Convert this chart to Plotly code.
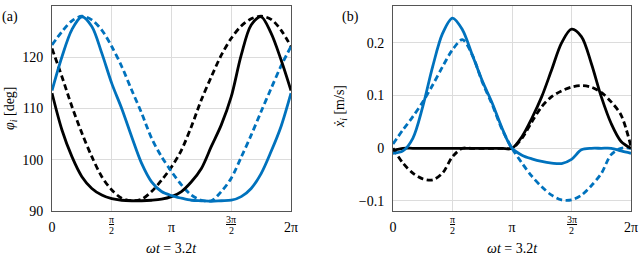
import math
import plotly.graph_objects as go

# sample positions: multiples of pi/12 over one period
steps = list(range(25))
phase = [k * math.pi / 12 for k in steps]

# (a) joint angles phi_i [deg]
phi_blue_solid = [113.5, 120.1, 125.4, 127.9, 126.0, 120.8, 114.9, 110.0, 104.5, 99.3, 95.7, 93.8, 93.0,
                  92.5, 92.1, 92.0, 91.9, 92.0, 92.1, 92.8, 94.4, 97.3, 101.6, 106.5, 113.0]
phi_blue_dash = [122.4, 125.0, 127.1, 128.0, 127.3, 125.3, 122.1, 118.2, 113.6, 109.1, 104.2, 100.6, 97.7,
                 95.1, 93.1, 92.1, 92.0, 93.8, 96.4, 100.5, 104.8, 109.4, 113.9, 118.3, 122.1]
phi_black_solid = [113.0, 105.8, 100.6, 96.7, 94.4, 93.1, 92.4, 92.1, 92.0, 92.0, 92.1, 92.3, 92.8,
                   93.8, 95.7, 98.3, 102.6, 106.8, 112.3, 120.4, 126.3, 127.9, 124.7, 119.5, 113.5]
phi_black_dash = [121.7, 116.2, 110.4, 105.2, 100.6, 96.7, 94.1, 92.5, 92.0, 92.3, 93.8, 96.0, 98.6,
                  101.9, 106.5, 111.7, 116.2, 120.4, 123.7, 126.1, 127.5, 128.0, 127.4, 125.3, 122.1]

# (b) velocities xdot_i [m/s]
v_blue_solid = [-0.0095, -0.005, 0.019, 0.079, 0.155, 0.218, 0.247, 0.225, 0.177, 0.128, 0.086, 0.038, 0.0,
                -0.013, -0.020, -0.025, -0.028, -0.029, -0.021, -0.003, 0.0, 0.0, 0.0, -0.005, -0.0095]
v_blue_dash = [0.008, 0.035, 0.060, 0.088, 0.120, 0.155, 0.187, 0.206, 0.177, 0.126, 0.083, 0.036, 0.0,
               -0.028, -0.053, -0.073, -0.089, -0.098, -0.098, -0.089, -0.071, -0.048, -0.012, 0.0, 0.0]
v_black_solid = [-0.004, 0.0, 0.0, 0.0, 0.0, 0.0, 0.0, 0.0, 0.0, 0.0, 0.0, 0.0, 0.0,
                 0.022, 0.057, 0.098, 0.149, 0.200, 0.226, 0.212, 0.161, 0.098, 0.047, 0.013, 0.0]
v_black_dash = [0.0, -0.028, -0.047, -0.058, -0.060, -0.047, -0.016, 0.0, 0.0, 0.0, 0.0, 0.0, 0.0,
                0.019, 0.050, 0.079, 0.098, 0.109, 0.116, 0.119, 0.116, 0.106, 0.088, 0.063, 0.003]

x_tickvals = [0, math.pi / 2, math.pi, 3 * math.pi / 2, 2 * math.pi]
x_ticktext = ["0", " ", "π", " ", "2π"]
frac_ticks = [(math.pi / 2, "π", "2"), (3 * math.pi / 2, "3π", "2")]
phi_ticks = [90, 100, 110, 120, 130]
v_tickvals = [-0.1, 0, 0.1, 0.2]
v_ticktext = ["−0.1", "0", "0.1", "0.2"]

BLUE = "#0072BD"
BLACK = "#000000"
FONT = "Liberation Serif"

fig = go.Figure()

def add(y, color, dash, xa, ya):
    fig.add_trace(go.Scatter(x=phase, y=y, mode="lines", xaxis=xa, yaxis=ya,
                             line=dict(color=color, width=2.8, dash=dash, shape="spline",
                                       smoothing=0.9),
                             showlegend=False, hoverinfo="skip"))

DASH = "6px,3.5px"
add(phi_black_dash, BLACK, DASH, "x", "y")
add(phi_blue_dash, BLUE, DASH, "x", "y")
add(phi_black_solid, BLACK, "solid", "x", "y")
add(phi_blue_solid, BLUE, "solid", "x", "y")

add(v_black_dash, BLACK, DASH, "x2", "y2")
add(v_blue_dash, BLUE, DASH, "x2", "y2")
add(v_black_solid, BLACK, "solid", "x2", "y2")
add(v_blue_solid, BLUE, "solid", "x2", "y2")

axis_common = dict(showline=True, linecolor="#555555", linewidth=1, mirror=True,
                   showgrid=True, gridcolor="#dcdcdc", gridwidth=1, zeroline=False,
                   ticks="", tickfont=dict(family=FONT, size=14, color="black"))

fig.update_layout(
    width=640, height=256,
    font=dict(family=FONT, size=14, color="black"),
    margin=dict(l=0, r=0, t=6, b=45, autoexpand=False),
    plot_bgcolor="white", paper_bgcolor="white",
    xaxis=dict(domain=[52 / 640, 291 / 640], range=[0, 2 * math.pi], tickvals=x_tickvals,
               ticktext=x_ticktext, anchor="y", ticklabelstandoff=3, **axis_common),
    yaxis=dict(domain=[0, 1], range=[90, 130], tickvals=phi_ticks, anchor="x",
               ticklabelstandoff=5, **axis_common),
    xaxis2=dict(domain=[393 / 640, 631 / 640], range=[0, 2 * math.pi], tickvals=x_tickvals,
                ticktext=x_ticktext, anchor="y2", ticklabelstandoff=3, **axis_common),
    yaxis2=dict(domain=[0, 1], range=[-0.119, 0.27], tickvals=v_tickvals, ticktext=v_ticktext,
                anchor="x2", ticklabelstandoff=5, **axis_common),
)

ann_font = dict(family=FONT, size=14, color="black")
small_font = dict(family=FONT, size=10, color="black")
PLOT_H = 211 - 6

def py(pix):
    # paper y for a pixel row
    return (211 - pix) / PLOT_H

for xa in ["x", "x2"]:
    for xv, num, den in frac_ticks:
        fig.add_annotation(text="<u>" + num + "</u>", xref=xa, yref="paper", x=xv, y=py(219),
                           xanchor="center", yanchor="middle", showarrow=False, font=small_font)
        fig.add_annotation(text=den, xref=xa, yref="paper", x=xv, y=py(230),
                           xanchor="center", yanchor="middle", showarrow=False, font=small_font)

fig.add_annotation(text="(a)", xref="paper", yref="paper", x=0 / 640, y=py(16.5),
                   xanchor="left", yanchor="middle", showarrow=False, font=ann_font)
fig.add_annotation(text="(b)", xref="paper", yref="paper", x=340 / 640, y=py(17),
                   xanchor="left", yanchor="middle", showarrow=False, font=ann_font)
fig.add_annotation(text="<i>ωt</i> = 3.2<i>t</i>", xref="x domain", yref="paper", x=0.5,
                   y=py(248), xanchor="center", yanchor="middle", showarrow=False, font=ann_font)
fig.add_annotation(text="<i>ωt</i> = 3.2<i>t</i>", xref="x2 domain", yref="paper", x=0.5,
                   y=py(248), xanchor="center", yanchor="middle", showarrow=False, font=ann_font)
fig.add_annotation(text="<i>φ</i><sub><i>i</i></sub> [deg]", xref="paper", yref="paper", x=10 / 640,
                   y=py(108), xanchor="center", yanchor="middle", textangle=-90,
                   showarrow=False, font=ann_font)
fig.add_annotation(text="<i>ẋ</i><sub><i>i</i></sub> [m/s]", xref="paper", yref="paper", x=340 / 640,
                   y=py(107), xanchor="center", yanchor="middle", textangle=-90,
                   showarrow=False, font=ann_font)

fig.write_html("out.html", config={"displayModeBar": False},
               post_script="document.body.style.margin='0px';")
